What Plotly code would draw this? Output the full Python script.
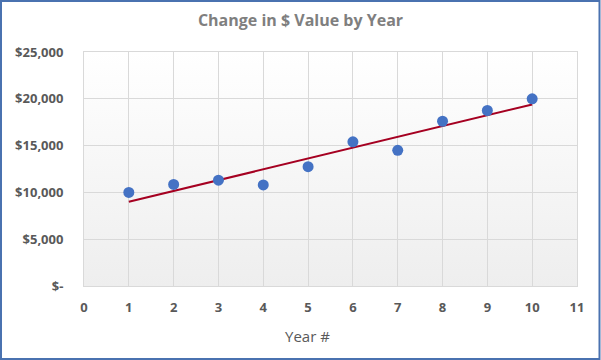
import base64
import numpy as np
import plotly.graph_objects as go

years = [1, 2, 3, 4, 5, 6, 7, 8, 9, 10]
values = [10000, 10850, 11300, 10800, 12750, 15400, 14500, 17600, 18750, 20000]
y_ticks = [0, 5000, 10000, 15000, 20000, 25000]
y_tick_labels = ["$-", "$5,000", "$10,000", "$15,000", "$20,000", "$25,000"]
x_ticks = list(range(0, 12))

slope, intercept = np.polyfit(years, values, 1)
trend_x = [years[0], years[-1]]
trend_y = [slope * x + intercept for x in trend_x]

W, H = 601, 360
ml, mr, mt, mb = 84, 24, 52, 74
pw, ph = W - ml - mr, H - mt - mb


def px_x(p):
    return (p - ml) / pw


def px_y(p):
    return (H - mb - p) / ph


svg = ('<svg xmlns="http://www.w3.org/2000/svg" width="100" height="100" preserveAspectRatio="none">'
       '<defs><linearGradient id="g" x1="0" y1="0" x2="0" y2="1">'
       '<stop offset="0" stop-color="#ffffff"/><stop offset="1" stop-color="#eeeeee"/>'
       '</linearGradient></defs><rect width="100" height="100" fill="url(#g)"/></svg>')
src = "data:image/svg+xml;base64," + base64.b64encode(svg.encode()).decode()

FONT = "Open Sans, Liberation Sans, sans-serif"

fig = go.Figure()
fig.add_trace(go.Scatter(
    x=trend_x, y=trend_y, mode="lines",
    line=dict(color="#A50021", width=2), hoverinfo="skip", showlegend=False))
fig.add_trace(go.Scatter(
    x=years, y=values, mode="markers",
    marker=dict(color="#4472C4", size=11, line=dict(width=0)), showlegend=False))

fig.update_layout(
    width=W, height=H,
    margin=dict(l=ml, r=mr, t=mt, b=mb),
    paper_bgcolor="white",
    plot_bgcolor="rgba(0,0,0,0)",
    title=dict(text="<b>Change in $ Value by Year</b>", x=0.5, xanchor="center", xref="container",
               y=1 - 20 / H, yanchor="middle",
               font=dict(family=FONT, size=16, color="#7F7F7F")),
    font=dict(family=FONT, color="#595959"),
    xaxis=dict(range=[0, 11], tickvals=x_ticks, showgrid=True, gridcolor="#D9D9D9", gridwidth=1,
               zeroline=False, showline=True, linecolor="#D9D9D9", mirror=True,
               tickfont=dict(size=13, color="#595959", family=FONT, weight="bold"),
               ticks="", ticklabelstandoff=9),
    yaxis=dict(range=[0, 25000], tickvals=y_ticks, ticktext=y_tick_labels,
               showgrid=True, gridcolor="#D9D9D9", gridwidth=1,
               zeroline=False, showline=True, linecolor="#D9D9D9", mirror=True,
               tickfont=dict(size=13, color="#595959", family=FONT, weight="bold"),
               ticks="", ticklabelstandoff=17),
    annotations=[dict(text="Year #", xref="paper", yref="paper", x=px_x(307), y=px_y(336),
                      xanchor="center", yanchor="middle", showarrow=False,
                      font=dict(family=FONT, size=15, color="#595959"))],
    images=[dict(source=src, xref="paper", yref="paper", x=0, y=1, sizex=1, sizey=1,
                 sizing="stretch", layer="below", xanchor="left", yanchor="top")],
    shapes=[dict(type="rect", xref="paper", yref="paper",
                 x0=px_x(1), x1=px_x(599.5), y0=px_y(359), y1=px_y(1),
                 line=dict(color="#4A72B0", width=2), fillcolor="rgba(0,0,0,0)")],
)

fig.write_html("out.html", config={"displayModeBar": False},
               post_script="document.body.style.margin='0';")
